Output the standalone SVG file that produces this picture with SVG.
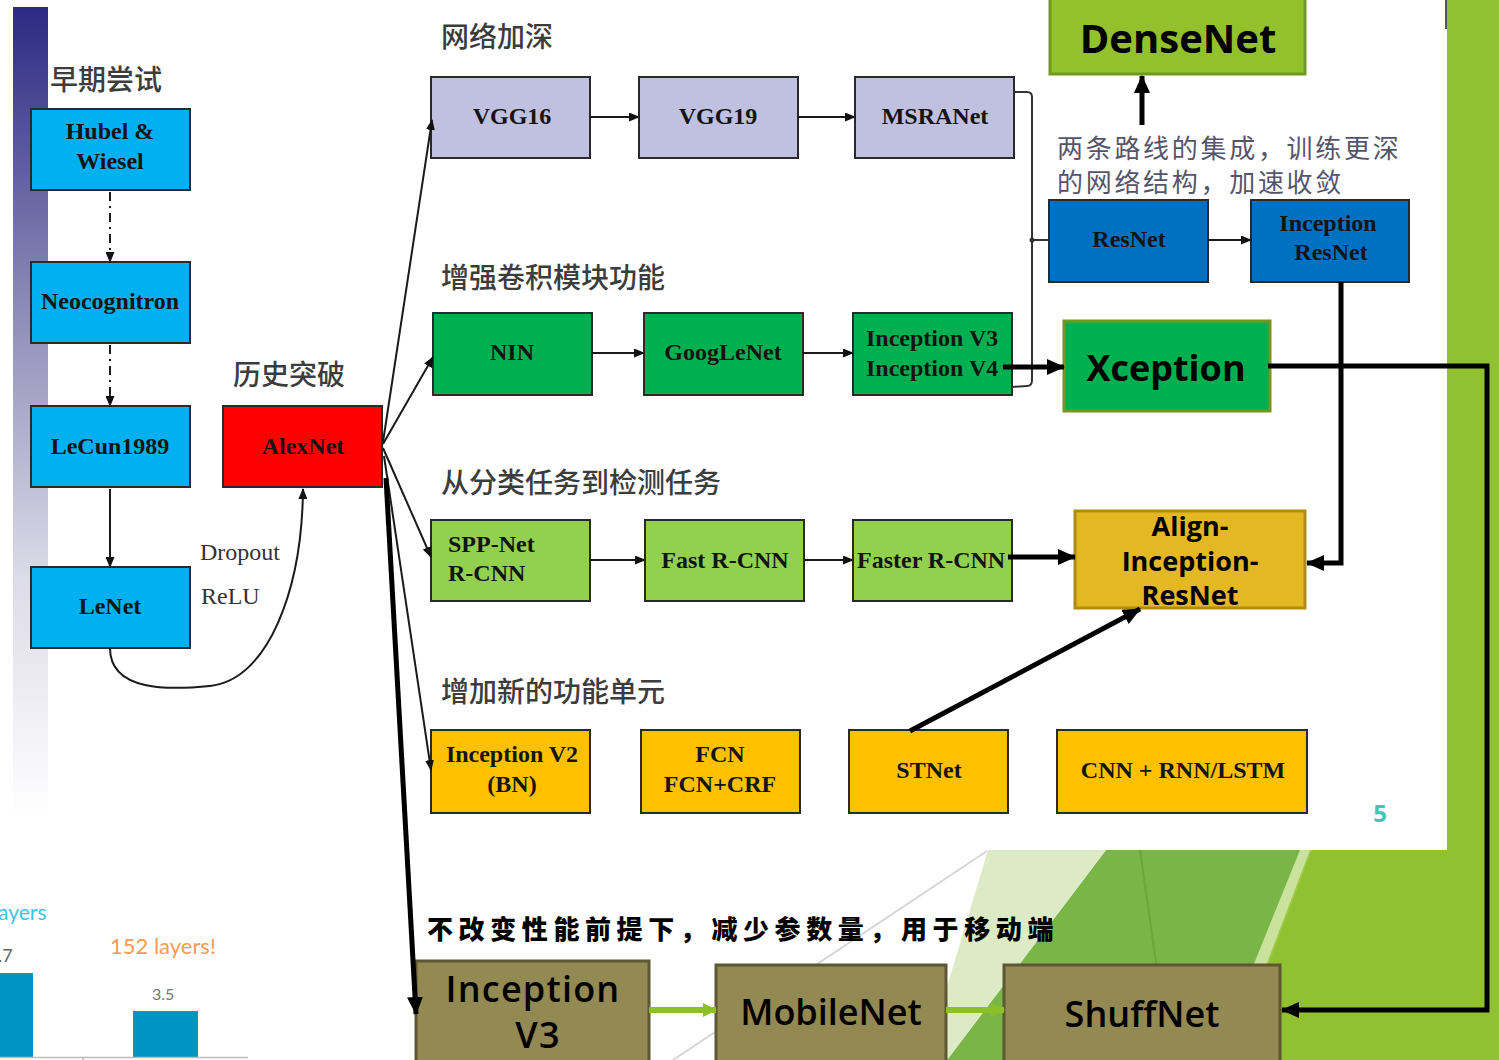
<svg xmlns="http://www.w3.org/2000/svg" width="1499" height="1060" viewBox="0 0 1499 1060">
  <defs>
    <linearGradient id="sidebar" x1="0" y1="0" x2="0" y2="1">
      <stop offset="0" stop-color="#2c2a84"/>
      <stop offset="0.35" stop-color="#8886b4"/>
      <stop offset="0.7" stop-color="#dcdbe8"/>
      <stop offset="1" stop-color="#ffffff"/>
    </linearGradient>
    <marker id="ah" markerUnits="userSpaceOnUse" markerWidth="11" markerHeight="9" refX="10" refY="4.5" orient="auto">
      <path d="M0,0 L11,4.5 L0,9 z" fill="#111"/>
    </marker>
    <marker id="ahb" markerUnits="userSpaceOnUse" markerWidth="18" markerHeight="16" refX="17" refY="8" orient="auto">
      <path d="M0,0 L18,8 L0,16 z" fill="#000"/>
    </marker>
    <marker id="ahg" markerUnits="userSpaceOnUse" markerWidth="14" markerHeight="14" refX="13" refY="7" orient="auto">
      <path d="M0,0 L14,7 L0,14 z" fill="#8cc028"/>
    </marker>
    <style>
      .box { stroke: #2a2a2a; stroke-width: 2; }
      .blue { fill: #00b0f0; }
      .lav { fill: #c0c0e0; }
      .grn { fill: #00b050; }
      .lgrn { fill: #92d050; }
      .ylw { fill: #ffc000; }
      .dblue { fill: #0070c0; }
      .brown { fill: #938953; stroke: #5f5634; stroke-width: 3; }
      .lbl { font-family: "Liberation Serif", "Times New Roman", serif; font-weight: bold; font-size: 24px; fill: #141414; text-anchor: middle; dominant-baseline: central; }
      .lbl-l { text-anchor: start; }
      .hd { font-family: "Noto Sans CJK SC", "Noto Sans", sans-serif; font-weight: 500; font-size: 28px; fill: #3c3c3c; dominant-baseline: central; }
      .note { font-family: "Noto Sans CJK SC", "Noto Sans", sans-serif; font-size: 26px; letter-spacing: 2.7px; fill: #55556a; dominant-baseline: central; }
      .big { font-family: "Open Sans", "Noto Sans", sans-serif; font-weight: bold; fill: #000; text-anchor: middle; dominant-baseline: central; }
      .bot { font-family: "Open Sans", "Noto Sans", sans-serif; font-weight: 600; font-size: 36px; fill: #000; text-anchor: middle; dominant-baseline: central; }
      .thin { fill: none; stroke: #1a1a1a; stroke-width: 2; }
      .thick { fill: none; stroke: #000; stroke-width: 5; }
      .gline { fill: none; stroke: #8cc028; stroke-width: 6; }
      .chart { font-family: "Lato", "Open Sans", sans-serif; }
    </style>
  </defs>

  <!-- slide background -->
  <rect x="0" y="0" width="1499" height="1060" fill="#ffffff"/>
  <polygon points="1447,0 1499,0 1499,1060 1230,1060 1310,850 1447,850" fill="#90c131"/>
  <polygon points="1290,850 1312,850 1232,1060 1212,1060" fill="#a6d05a" opacity="0.6"/>
  <polygon points="1106,850 1300,850 1215,1060 947,1060" fill="#79b547"/>
  <line x1="1140" y1="850" x2="1170" y2="1060" stroke="#6aa83c" stroke-width="2"/>
  <polygon points="988,850 1106,850 947,1060 925,1060" fill="#dcebc5"/>
  <line x1="987" y1="851" x2="673" y2="1060" stroke="#d6d6d6" stroke-width="2"/>
  <line x1="1446" y1="0" x2="1446" y2="29" stroke="#555" stroke-width="2"/>

  <!-- left accent bar -->
  <rect x="13" y="7" width="35" height="813" fill="url(#sidebar)"/>

  <!-- chart fragment, lower left -->
  <g class="chart">
    <text x="-2" y="920" font-size="21" fill="#3ec3e4">ayers</text>
    <text x="-2" y="962" font-size="18" fill="#666">.7</text>
    <rect x="0" y="973" width="33" height="84" fill="#0094c4"/>
    <text x="110" y="954" font-size="22" fill="#f79a56">152 layers!</text>
    <text x="152" y="1000" font-size="16" fill="#777">3.5</text>
    <rect x="133" y="1011" width="65" height="46" fill="#0094c4"/>
    <line x1="0" y1="1057.5" x2="248" y2="1057.5" stroke="#bbb" stroke-width="1.5"/>
    <line x1="83" y1="1057" x2="83" y2="1060" stroke="#bbb" stroke-width="1.5"/>
  </g>

  <!-- section headings -->
  <text class="hd" x="50" y="78">早期尝试</text>
  <text class="hd" x="233" y="373">历史突破</text>
  <text class="hd" x="441" y="35">网络加深</text>
  <text class="hd" x="441" y="276">增强卷积模块功能</text>
  <text class="hd" x="441" y="481">从分类任务到检测任务</text>
  <text class="hd" x="441" y="690">增加新的功能单元</text>
  <text class="note" x="1057" y="146">两条路线的集成，训练更深</text>
  <text class="note" x="1057" y="180">的网络结构，加速收敛</text>
  <text x="427" y="927" font-family="Noto Sans CJK SC, sans-serif" font-weight="900" font-size="26" letter-spacing="5.6" fill="#000" dominant-baseline="central">不改变性能前提下，减少参数量，用于移动端</text>
  <text x="200" y="552" font-family="Liberation Serif, serif" font-size="24" fill="#333" dominant-baseline="central">Dropout</text>
  <text x="201" y="596" font-family="Liberation Serif, serif" font-size="24" fill="#333" dominant-baseline="central">ReLU</text>
  <text x="1380" y="812" font-family="Open Sans, sans-serif" font-weight="bold" font-size="24" fill="#3cc8b4" text-anchor="middle" dominant-baseline="central">5</text>

  <!-- nodes -->
  <g id="hubel"><rect class="box blue" x="31" y="109" width="159" height="81"/><text class="lbl" x="110" y="131">Hubel &amp;</text><text class="lbl" x="110" y="161">Wiesel</text></g>
  <g id="neocognitron"><rect class="box blue" x="31" y="262" width="159" height="81"/><text class="lbl" x="110" y="301">Neocognitron</text></g>
  <g id="lecun1989"><rect class="box blue" x="31" y="406" width="159" height="81"/><text class="lbl" x="110" y="446">LeCun1989</text></g>
  <g id="lenet"><rect class="box blue" x="31" y="567" width="159" height="81"/><text class="lbl" x="110" y="606">LeNet</text></g>
  <g id="alexnet"><rect class="box" fill="#ff0000" x="223" y="406" width="159" height="81"/><text class="lbl" x="303" y="446">AlexNet</text></g>

  <g id="vgg16"><rect class="box lav" x="431" y="77" width="159" height="81"/><text class="lbl" x="512" y="116">VGG16</text></g>
  <g id="vgg19"><rect class="box lav" x="639" y="77" width="159" height="81"/><text class="lbl" x="718" y="116">VGG19</text></g>
  <g id="msranet"><rect class="box lav" x="855" y="77" width="159" height="81"/><text class="lbl" x="935" y="116">MSRANet</text></g>

  <g id="nin"><rect class="box grn" x="433" y="313" width="159" height="82"/><text class="lbl" x="512" y="352">NIN</text></g>
  <g id="googlenet"><rect class="box grn" x="644" y="313" width="159" height="82"/><text class="lbl" x="723" y="352">GoogLeNet</text></g>
  <g id="inception-v3-v4"><rect class="box grn" x="853" y="313" width="159" height="82"/><text class="lbl lbl-l" x="866" y="338">Inception V3</text><text class="lbl lbl-l" x="866" y="368">Inception V4</text></g>

  <g id="spp-net"><rect class="box lgrn" x="431" y="520" width="159" height="81"/><text class="lbl lbl-l" x="448" y="544">SPP-Net</text><text class="lbl lbl-l" x="448" y="573">R-CNN</text></g>
  <g id="fast-rcnn"><rect class="box lgrn" x="645" y="520" width="159" height="81"/><text class="lbl" x="725" y="560">Fast R-CNN</text></g>
  <g id="faster-rcnn"><rect class="box lgrn" x="853" y="520" width="159" height="81"/><text class="lbl lbl-l" x="857" y="560">Faster R-CNN</text></g>

  <g id="inception-v2"><rect class="box ylw" x="431" y="730" width="159" height="83"/><text class="lbl" x="512" y="754">Inception V2</text><text class="lbl" x="512" y="784">(BN)</text></g>
  <g id="fcn"><rect class="box ylw" x="641" y="730" width="159" height="83"/><text class="lbl" x="720" y="754">FCN</text><text class="lbl" x="720" y="784">FCN+CRF</text></g>
  <g id="stnet"><rect class="box ylw" x="849" y="730" width="159" height="83"/><text class="lbl" x="929" y="770">STNet</text></g>
  <g id="cnn-rnn"><rect class="box ylw" x="1057" y="730" width="250" height="83"/><text class="lbl" x="1183" y="770" font-size="23">CNN + RNN/LSTM</text></g>

  <g id="densenet"><rect x="1050" y="-4" width="255" height="78" fill="#92c12c" stroke="#6f9a1c" stroke-width="3"/><text class="big" x="1178" y="37" font-size="40">DenseNet</text></g>
  <g id="resnet"><rect class="box dblue" x="1049" y="200" width="159" height="82"/><text class="lbl" x="1129" y="239">ResNet</text></g>
  <g id="inception-resnet"><rect class="box dblue" x="1251" y="200" width="158" height="82"/><text class="lbl" x="1328" y="223" font-size="23">Inception</text><text class="lbl" x="1331" y="252" font-size="23">ResNet</text></g>
  <g id="xception"><rect x="1064" y="321" width="206" height="90" fill="#00b050" stroke="#76961e" stroke-width="3"/><text class="big" x="1166" y="367" font-size="36">Xception</text></g>
  <g id="align-inception-resnet"><rect x="1075" y="511" width="230" height="97" fill="#e4b822" stroke="#b08c12" stroke-width="3"/><text class="big" x="1190" y="525" font-size="27">Align-</text><text class="big" x="1190" y="560" font-size="27">Inception-</text><text class="big" x="1190" y="594" font-size="27">ResNet</text></g>

  <g id="inception-v3"><rect class="brown" x="416" y="961" width="233" height="104"/><text class="bot" font-size="30" letter-spacing="1.2"><tspan x="533" y="988">Inception</tspan><tspan x="538" y="1034">V3</tspan></text></g>
  <g id="mobilenet"><rect class="brown" x="716" y="965" width="230" height="98"/><text class="bot" x="831" y="1011">MobileNet</text></g>
  <g id="shuffnet"><rect class="brown" x="1004" y="965" width="276" height="98"/><text class="bot" x="1142" y="1013" font-size="40">ShuffNet</text></g>

  <!-- connectors -->
  <g id="connectors">
    <!-- early attempts column -->
    <line class="thin" x1="110" y1="192" x2="110" y2="262" stroke-dasharray="9,5,2,5" marker-end="url(#ah)"/>
    <line class="thin" x1="110" y1="345" x2="110" y2="406" stroke-dasharray="9,5,2,5" marker-end="url(#ah)"/>
    <line class="thin" x1="110" y1="489" x2="110" y2="567" marker-end="url(#ah)"/>
    <path class="thin" d="M110,648 C110,692 170,690 210,686 C268,680 302,590 303,489" marker-end="url(#ah)"/>

    <!-- AlexNet fan-out -->
    <line class="thin" x1="383" y1="442" x2="432" y2="120" marker-end="url(#ah)"/>
    <line class="thin" x1="383" y1="444" x2="433" y2="357" marker-end="url(#ah)"/>
    <line class="thin" x1="383" y1="448" x2="431" y2="557" marker-end="url(#ah)"/>
    <line class="thin" x1="384" y1="456" x2="431" y2="770" marker-end="url(#ah)"/>
    <line class="thick" x1="386" y1="478" x2="416" y2="1014" marker-end="url(#ahb)"/>

    <!-- rows -->
    <line class="thin" x1="590" y1="117" x2="639" y2="117" marker-end="url(#ah)"/>
    <line class="thin" x1="798" y1="117" x2="855" y2="117" marker-end="url(#ah)"/>
    <line class="thin" x1="592" y1="353" x2="644" y2="353" marker-end="url(#ah)"/>
    <line class="thin" x1="803" y1="353" x2="853" y2="353" marker-end="url(#ah)"/>
    <line class="thin" x1="590" y1="560" x2="645" y2="560" marker-end="url(#ah)"/>
    <line class="thin" x1="804" y1="560" x2="853" y2="560" marker-end="url(#ah)"/>
    <line class="thin" x1="1208" y1="240" x2="1251" y2="240" marker-end="url(#ah)"/>

    <!-- bracket joining the deep and inception paths into ResNet -->
    <path d="M1014,92 L1027,92 Q1032,92 1032,97 L1032,380 Q1032,386 1027,386 L1012,387" fill="none" stroke="#333" stroke-width="2"/>
    <line x1="1032" y1="240" x2="1049" y2="240" stroke="#333" stroke-width="2"/>
    <circle cx="1032" cy="240" r="2.5" fill="#333"/>

    <!-- thick links -->
    <line class="thick" x1="1142" y1="125" x2="1142" y2="76" marker-end="url(#ahb)"/>
    <line class="thick" x1="1003" y1="367" x2="1064" y2="367" marker-end="url(#ahb)"/>
    <line class="thick" x1="1008" y1="557" x2="1075" y2="557" marker-end="url(#ahb)"/>
    <polyline class="thick" points="1341,282 1341,563 1307,563" marker-end="url(#ahb)"/>
    <line class="thick" x1="910" y1="731" x2="1140" y2="609" marker-end="url(#ahb)"/>
    <polyline class="thick" points="1268,366 1487,366 1487,1010 1282,1010" marker-end="url(#ahb)"/>

    <!-- light-weight row -->
    <line class="gline" x1="649" y1="1010" x2="716" y2="1010" marker-end="url(#ahg)"/>
    <line class="gline" x1="946" y1="1010" x2="1004" y2="1010" marker-end="url(#ahg)"/>
  </g>
</svg>
